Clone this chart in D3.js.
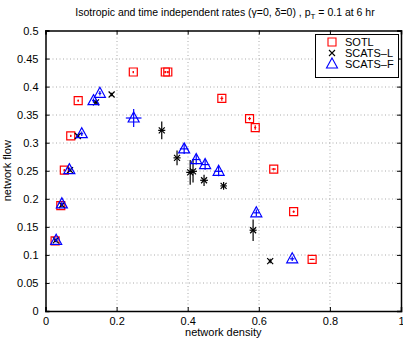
<!DOCTYPE html>
<html>
<head>
<meta charset="utf-8">
<script src="https://cdn.jsdelivr.net/npm/d3@7"></script>
<style>
  body { margin: 0; background: #fff; }
  svg { display: block; font-family: "Liberation Sans", Arial, sans-serif; }
</style>
</head>
<body>
<div id="c"></div>
<script>
"use strict";

// SOTL (red squares)
const sotlX  = [0.027, 0.043, 0.053, 0.071, 0.092, 0.247, 0.337, 0.344, 0.496, 0.574, 0.590, 0.642, 0.698, 0.750]
const sotlY  = [0.125, 0.188, 0.251, 0.312, 0.375, 0.426, 0.426, 0.426, 0.379, 0.343, 0.327, 0.253, 0.177, 0.092]
const sotlEx = [0.002, 0.002, 0.002, 0.002, 0.002, 0.002, 0.003, 0.003, 0.004, 0.004, 0.003, 0.006, 0.003, 0.007]
const sotlEy = [0.002, 0.002, 0.002, 0.002, 0.002, 0.002, 0.002, 0.002, 0.004, 0.003, 0.004, 0.002, 0.002, 0.001]

// SCATS-L (black x)
const lX  = [0.029, 0.046, 0.069, 0.091, 0.142, 0.186, 0.327, 0.370, 0.407, 0.415, 0.446, 0.501, 0.584, 0.632]
const lY  = [0.126, 0.189, 0.251, 0.312, 0.372, 0.386, 0.322, 0.273, 0.247, 0.249, 0.233, 0.223, 0.144, 0.089]
const lEx = [0.004, 0.004, 0.004, 0.004, 0.006, 0.003, 0.010, 0.010, 0.011, 0.011, 0.011, 0.009, 0.010, 0.004]
const lEy = [0.003, 0.003, 0.003, 0.003, 0.005, 0.003, 0.016, 0.013, 0.022, 0.020, 0.010, 0.007, 0.019, 0.004]

// SCATS-F (blue triangles)
const fX  = [0.030, 0.046, 0.067, 0.102, 0.135, 0.153, 0.248, 0.390, 0.424, 0.449, 0.487, 0.593, 0.694]
const fY  = [0.126, 0.191, 0.252, 0.316, 0.375, 0.388, 0.344, 0.289, 0.270, 0.261, 0.249, 0.175, 0.093]
const fEx = [0.004, 0.004, 0.004, 0.004, 0.004, 0.004, 0.022, 0.012, 0.012, 0.012, 0.012, 0.008, 0.006]
const fEy = [0.004, 0.004, 0.004, 0.004, 0.004, 0.004, 0.016, 0.009, 0.009, 0.009, 0.009, 0.006, 0.004]

const xTicks = [0, 0.2, 0.4, 0.6, 0.8, 1]
const yTicks = [0, 0.05, 0.1, 0.15, 0.2, 0.25, 0.3, 0.35, 0.4, 0.45, 0.5]
const legendNames = ["SOTL", "SCATS\u2013L", "SCATS\u2013F"]

const W = 403, H = 338
const margin = {top: 30.5, right: 2, bottom: 27, left: 45.5}
const width = W - margin.left - margin.right
const height = H - margin.top - margin.bottom

const mainSvg = d3.select('#c').append('svg')
    .attr('width', W).attr('height', H)

const svg = mainSvg.append('g')
    .attr('transform', "translate(" + margin.left + "," + margin.top + ")")

const xScale = d3.scaleLinear().domain([0, 1]).range([0, width])
const yScale = d3.scaleLinear().domain([0, 0.5]).range([height, 0])

// grid
const grid = svg.append('g').attr('stroke', '#aaa').attr('stroke-width', 1)
    .attr('stroke-dasharray', '1,2.5')
xTicks.slice(1, -1).forEach(t => {
    grid.append('line')
        .attr('x1', Math.round(xScale(t)) + 0.5).attr('x2', Math.round(xScale(t)) + 0.5)
        .attr('y1', 0).attr('y2', height)
})
yTicks.slice(1, -1).forEach(t => {
    grid.append('line')
        .attr('y1', Math.round(yScale(t)) + 0.5).attr('y2', Math.round(yScale(t)) + 0.5)
        .attr('x1', 0).attr('x2', width)
})

// axes, matlab style ticks pointing inwards
const axFmt = d3.format("~g")
svg.append('g')
    .attr('transform', 'translate(0,' + height + ')')
    .call(d3.axisBottom(xScale).tickValues(xTicks).tickSize(-4).tickPadding(6).tickFormat(axFmt))
svg.append('g')
    .call(d3.axisTop(xScale).tickValues(xTicks).tickSize(-4).tickFormat(""))
svg.append('g')
    .call(d3.axisLeft(yScale).tickValues(yTicks).tickSize(-4).tickPadding(7).tickFormat(axFmt))
svg.append('g')
    .attr('transform', 'translate(' + width + ',0)')
    .call(d3.axisRight(yScale).tickValues(yTicks).tickSize(-4).tickFormat(""))
svg.selectAll('.domain').attr('stroke', '#000').attr('stroke-width', 1.5)
svg.selectAll('.tick line').attr('stroke', '#000')
svg.selectAll('.tick text').attr('font-size', 11).attr('fill', '#000')
    .attr('font-family', '"Liberation Sans", Arial, sans-serif')

// error bars
function errorBars(g, xs, ys, exs, eys, color) {
    xs.forEach((x, i) => {
        g.append('line')
            .attr('x1', xScale(x)).attr('x2', xScale(x))
            .attr('y1', yScale(ys[i] - eys[i])).attr('y2', yScale(ys[i] + eys[i]))
            .attr('stroke', color).attr('stroke-width', 1.2)
        g.append('line')
            .attr('x1', xScale(x - exs[i])).attr('x2', xScale(x + exs[i]))
            .attr('y1', yScale(ys[i])).attr('y2', yScale(ys[i]))
            .attr('stroke', color).attr('stroke-width', 1.2)
    })
}

const sqPath = "M-4,-4H4V4H-4Z"
const triPath = "M0,-6L5.5,4H-5.5Z"
const xPath = "M-3,-3L3,3M-3,3L3,-3"

function markers(g, xs, ys, path, color, sw) {
    g.selectAll('path.m').data(xs).enter().append('path')
        .attr('class', 'm')
        .attr('d', path)
        .attr('transform', (d, i) => "translate(" + xScale(d) + "," + yScale(ys[i]) + ")")
        .attr('fill', 'none').attr('stroke', color).attr('stroke-width', sw)
}

const red = "#ff0000", blue = "#0000ff", black = "#000"
const gS = svg.append('g'), gL = svg.append('g'), gF = svg.append('g')
errorBars(gS, sotlX, sotlY, sotlEx, sotlEy, red)
markers(gS, sotlX, sotlY, sqPath, red, 1.2)
errorBars(gL, lX, lY, lEx, lEy, black)
markers(gL, lX, lY, xPath, black, 1.2)
errorBars(gF, fX, fY, fEx, fEy, blue)
markers(gF, fX, fY, triPath, blue, 1.2)

// legend
const leg = svg.append('g').attr('transform', 'translate(' + (315 - margin.left) + ',' + (34 - margin.top) + ')')
leg.append('rect').attr('x', 0.5).attr('y', 0.5).attr('width', 83).attr('height', 43)
    .attr('fill', '#fff').attr('stroke', '#000').attr('stroke-width', 1)
const legPaths = [sqPath, xPath, triPath]
const legColors = [red, black, blue]
legendNames.forEach((name, i) => {
    const cy = 8 + i * 11
    leg.append('path').attr('d', legPaths[i])
        .attr('transform', 'translate(17,' + cy + ')')
        .attr('fill', 'none').attr('stroke', legColors[i]).attr('stroke-width', 1.1)
    leg.append('text').attr('x', 30).attr('y', cy + 4)
        .attr('font-size', 11).text(name)
})

// title
const title = mainSvg.append('text')
    .attr('x', 225).attr('y', 16)
    .attr('text-anchor', 'middle')
    .attr('font-size', 10.5)
title.append('tspan').text("Isotropic and time independent rates (\u03b3=0, \u03b4=0) , p")
title.append('tspan').attr('font-size', 8).attr('dy', 3).text("T")
title.append('tspan').attr('dy', -3).text(" = 0.1 at 6 hr")

// axis labels
mainSvg.append('text')
    .attr('x', margin.left + width / 2).attr('y', 336)
    .attr('text-anchor', 'middle').attr('font-size', 11)
    .text("network density")
mainSvg.append('text')
    .attr('transform', 'translate(11,' + (margin.top + height / 2) + ') rotate(-90)')
    .attr('text-anchor', 'middle').attr('font-size', 11)
    .text("network flow")
</script>
</body>
</html>
